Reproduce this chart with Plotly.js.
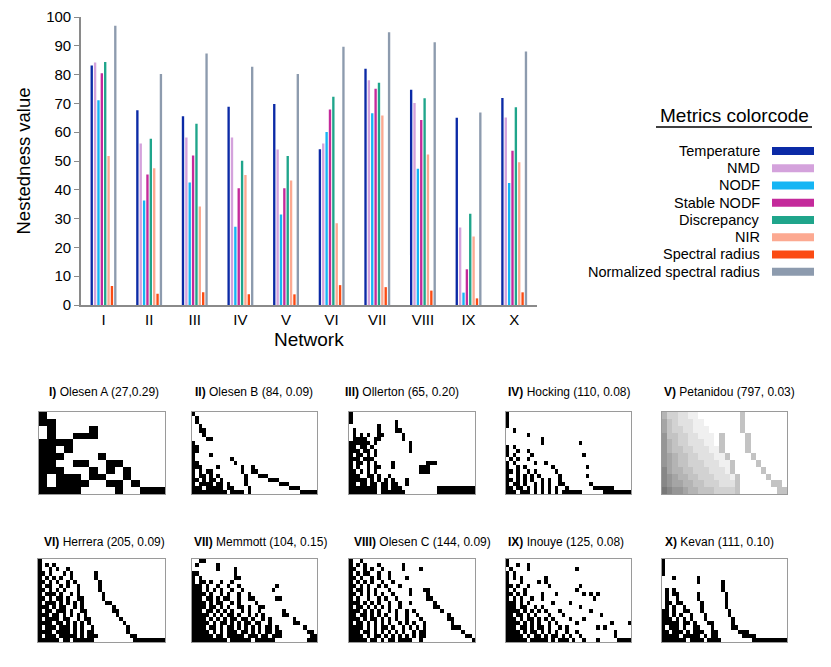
<!DOCTYPE html>
<html>
<head>
<meta charset="utf-8">
<script src="https://cdn.plot.ly/plotly-3.0.1.min.js"></script>
<style>
  body { margin: 0; background: #fff; }
  #myChart { width: 831px; height: 667px; }
</style>
</head>
<body>
<div id="myChart"></div>
<script>
// networks on the x axis
let networks = ["I", "II", "III", "IV", "V", "VI", "VII", "VIII", "IX", "X"];

// metric names (legend order)
let metrics = ["Temperature", "NMD", "NODF", "Stable NODF", "Discrepancy", "NIR",
  "Spectral radius", "Normalized spectral radius"];

// values, one array per metric
let temperature = [83.2, 67.6, 65.5, 68.8, 69.8, 54.1, 82.0, 74.7, 65.0, 71.9];
let nmd = [84.2, 56.1, 58.2, 58.2, 54.0, 56.1, 78.0, 70.1, 26.9, 65.1];
let nodf = [71.1, 36.3, 42.5, 27.2, 31.4, 60.1, 66.6, 47.3, 4.3, 42.4];
let stableNodf = [80.5, 45.3, 51.9, 40.5, 40.5, 67.9, 75.1, 64.2, 12.4, 53.6];
let discrepancy = [84.4, 57.7, 62.9, 50.1, 51.7, 72.3, 77.2, 71.8, 31.7, 68.7];
let nir = [51.7, 47.5, 34.2, 45.1, 43.2, 28.4, 65.8, 52.3, 23.8, 49.6];
let spectralRadius = [6.6, 3.9, 4.4, 3.7, 3.7, 6.9, 6.2, 5.0, 2.3, 4.4];
let normSpectralRadius = [97.0, 80.2, 87.3, 82.7, 80.2, 89.7, 94.7, 91.2, 66.8, 88.0];

// network names for the matrix panels: name, species, connectance
let netNames = ["Olesen A", "Olesen B", "Ollerton", "Hocking", "Petanidou",
  "Herrera", "Memmott", "Olesen C", "Inouye", "Kevan"];
let netSpecies = ["27", "84", "65", "110", "797", "205", "104", "144", "125", "111"];
let netConn = ["0.29", "0.09", "0.20", "0.08", "0.03", "0.09", "0.15", "0.09", "0.08", "0.10"];

// interaction matrices, traced by eye ('#' filled, '.' empty, digit = grey density)
let matOlesenA = [
  "#..............",
  "##.............",
  ".#....#........",
  ".#..###........",
  "####...........",
  "##.#...........",
  "###....#.......",
  "##..##..##.....",
  "###...#.#.#....",
  "#.###.##..#....",
  "#.####..##.#...",
  "#####....#..###"
];
let matOlesenB = [
  "#...................................",
  ".#..................................",
  ".#..................................",
  "..#.................................",
  "..##................................",
  "...#................................",
  "....##..............................",
  "#...................................",
  "##..................................",
  "##..................................",
  "#....#..............................",
  "#..........#........................",
  "##..........#.......................",
  "###....#......#..#..................",
  "#.#.##........#..##.................",
  "#.##.#.#.......#...###..............",
  "##.#.##.#......#......###...........",
  "#.####.##.#....#.........###........",
  "###.#####.##....#...........###.....",
  "##########.####.#..............#####"
];
let matOllerton = [
  "#...................................",
  "#...................................",
  "#............#......................",
  "........#....#......................",
  ".#......#....##.....................",
  ".#.#.#..##.....#....................",
  ".####..##......#....................",
  "######.#.........#..................",
  "##.##.#..........#..................",
  "###.##.#.........#..................",
  "#.##.#.#............................",
  "###.###.............................",
  "#.##.#.#....#.........###...........",
  "#.#..#.##...#.......###.............",
  "##.#.#.#............###.............",
  "###..##.#..#........................",
  "#####.#.#.#.#...#...................",
  "##.##.##.##.##..#...................",
  "########.##.###..........###########",
  "########.#######.........###########"
];
let matHocking = [
  "#...................................",
  "#...................................",
  "#...................................",
  "#...................................",
  "..#.................................",
  "......#.............................",
  "..........#.........................",
  "..........#..........#..............",
  "#.#.................................",
  "#..#..#.............................",
  "#.#....#..............#.............",
  ".#.#..#.............................",
  "#.#.....#..#........................",
  "#..#.#.......#.........#............",
  "##.#..#.#.....#.....................",
  "#..#.#.#.#.....#.......#............",
  "##.#.#.#..#.#..#....................",
  "#.##.#..#.#.#..##.......#...........",
  "##.##.#.#.#.#.#..#.......######.....",
  "###.###.#.#.#.#.######......########"
];
let matPetanidou = [
  "533221100000000400000000",
  "643222110000000400000000",
  "643322111000000400000000",
  "744332211104000040000000",
  "754332221104000040000000",
  "754433222114000040000000",
  "765443322211400004000000",
  "765443332221140000400000",
  "865544333222140000040000",
  "876554433322214000004000",
  "876655443332224000000440",
  "987765544433334000000044"
];
let matHerrera = [
  "#...................................",
  "#.#.#...............................",
  "#..#.#..#...........................",
  "##.#...#.#......#...................",
  "#.#.#.#..#......#...................",
  "##.#.#..#.#......#..................",
  "#.##..#.#..#.....#..................",
  "##.#.#.#...#.....#..................",
  "#.###.#..#.#......#.................",
  "##.#.##.#..##.....#.................",
  "#.###.#.#.#.#......##...............",
  "###.#.##..#.#........#..............",
  "#.##.###.#..##.......##.............",
  "###.##.#.#.#.#........#.............",
  "#.####.##..#.##........#............",
  "####.##.#.#.#.#.........#...........",
  "#.###.###.#.#..#.........#..........",
  "####.####.#.#.##.........#..........",
  "#.###.#####.#.###.........##........",
  "######.##.######...........#########"
];
let matMemmott = [
  "..##................................",
  ".#.....#............................",
  ".......#....#.......................",
  "##..........#.......................",
  "#.#.........##......................",
  "#.##.#..#..#........................",
  "###.#..#..#..#..........#...........",
  "###.#.#.#..#..#........#............",
  "####.#..#.#..#..#...................",
  "###.##.#.##..#..##......##..........",
  "####.#.##..#.#....#.................",
  "####.##.#.#..##.#..##...............",
  "###.##.#.#.#..#.#..#......#.........",
  "#####.#.#.##.#..#.#.#.....##........",
  "####.#.#.#.##.##.#..#.#......#......",
  "#####.#.##.#.#.##.##..#......##.....",
  "####.##.#.##.#.#.#.#.##.#.......#...",
  "#####.#.#.###.##.#.#.##.##.......##.",
  "######.##.#####.###.##.###........##",
  "##########.######.######.........###"
];
let matOlesenC = [
  "#..#................................",
  "#.#.#...#......#....................",
  "##..#.#..#.....#....#...............",
  "#.#.##..#..#........................",
  "##.#..#.#..#....#...................",
  "#.#.#.#..#..#.......................",
  "##.#.#..#.#...#.....................",
  "#.##.#.#...#.....#...##.............",
  "##.#.#.#.#..#....#....#.............",
  "#.#..#..#.#..#........##............",
  "###.#.#.#..#..#..#......#...........",
  "#.##.#.#.#.#..#.........##..........",
  "###.#.#.#..#.#..#.#.......#.........",
  "##.##.#.#.#..#..#..#........#.......",
  "###.#.##.#.#.#..#...#.......##......",
  "#.##.#.#.#.#..#.#.#..#.......#......",
  "####.#.#.##.#..#.#.#.#.......###....",
  "###.##.#.#.#.#.#..#.##..........#...",
  "####.#.##.#.#.#.#.#.##...........##.",
  "#####.##.#.##.####..#..............#"
];
let matInouye = [
  "#...................................",
  "#..#..#.............................",
  ".#....#.............#...............",
  "#.#.................................",
  "#.#.#......#........................",
  "#...#....#.#........................",
  "##.#..#.....#........#..............",
  "#.#..#..............#...............",
  "##.#.#....#...#.......#.#.#.........",
  "#.#.#..#..#..............#..........",
  "###.#.#......#....#.................",
  "###.##..#.#..........#..............",
  "####.#.#.#.#...#........#...........",
  "##.##.#.#...#...#..........#........",
  "###.#.##.#.#.#....#...#.............",
  "####.#.#.#..#.#.....#.........#....#",
  "###.##.#.##.#..#.#........#.#.......",
  "####.#.##.#.#.#..#..#..........#....",
  "#####.#.##.#.##.#.#..#.........#....",
  "######.#####.#.###.#..#...#.....####"
];
let matKevan = [
  "#...................................",
  "#...................................",
  "#...................................",
  "#...................................",
  "...#......#.........................",
  "..........#......#..................",
  ".................#..................",
  ".#.#.............#..................",
  ".#.##.....#.......#.................",
  ".#..#.....#.......#.................",
  ".##.##.....#......#.................",
  ".#.#..#....#......#.................",
  "##.#..##...#.......#................",
  "##.#.#..#...#......#................",
  "###.#.#.#...#.......#...............",
  "#####.##.#...##.....#...............",
  "#.###.#..##...#.....##..............",
  "##.###.#.###..##......###...........",
  "#####.#####.#.##.......####.........",
  "#######.####.####.........##########"
];
let matrices = [matOlesenA, matOlesenB, matOllerton, matHocking, matPetanidou,
  matHerrera, matMemmott, matOlesenC, matInouye, matKevan];

// colours of the metrics
let colors = ["#0b2aa6", "#d4a2dc", "#15b5f4", "#c42a9b", "#1fa58b", "#fca991", "#fb4b13", "#8d9bae"];

const W = 831, H = 667;
const px = x => x / W;
const py = y => 1 - y / H;
const font = "Liberation Sans, Arial, Helvetica, sans-serif";

let series = [temperature, nmd, nodf, stableNodf, discrepancy, nir, spectralRadius, normSpectralRadius];

const data = [];
for (let i = 0; i < metrics.length; i++) {
  data.push({
    type: "bar",
    name: metrics[i],
    x: networks,
    y: series[i],
    marker: {color: colors[i], line: {width: 0}},
    xaxis: "x",
    yaxis: "y",
    hoverinfo: "x+y+name"
  });
}

// Define Layout
const layout = {
  width: W,
  height: H,
  margin: {l: 0, r: 0, t: 0, b: 0},
  paper_bgcolor: "#fff",
  plot_bgcolor: "rgba(0,0,0,0)",
  showlegend: false,
  barmode: "group",
  bargap: 0.41,
  bargroupgap: 0.3,
  font: {family: font, color: "#000"},
  xaxis: {
    domain: [px(80.7), px(537)],
    anchor: "y",
    showline: true, linecolor: "#8a8a8a", linewidth: 1.5,
    ticks: "", showgrid: false, zeroline: false,
    tickfont: {size: 15, family: font},
    title: {text: "Network", font: {size: 19, family: font}, standoff: 6}
  },
  yaxis: {
    domain: [py(305), py(17)],
    anchor: "x",
    range: [0, 100],
    dtick: 10,
    showline: true, linecolor: "#8a8a8a", linewidth: 1.5,
    ticks: "outside", ticklen: 5, tickcolor: "#8a8a8a",
    showgrid: false, zeroline: false,
    tickfont: {size: 15, family: font},
    title: {text: "Nestedness value", font: {size: 18.5, family: font}, standoff: 10}
  },
  annotations: [],
  shapes: []
};

// legend built by hand: text right-aligned, swatch on the right
layout.annotations.push({
  xref: "paper", yref: "paper", x: px(734), y: py(115),
  text: "Metrics colorcode", showarrow: false,
  font: {size: 19, family: font}, xanchor: "center", yanchor: "middle"
});
layout.shapes.push({
  type: "line", xref: "paper", yref: "paper",
  x0: px(656), x1: px(812), y0: py(127), y1: py(127),
  line: {color: "#000", width: 1.5}
});
for (let i = 0; i < metrics.length; i++) {
  let yc = 151 + i * 17.25;
  layout.annotations.push({
    xref: "paper", yref: "paper", x: px(762), y: py(yc),
    text: metrics[i], showarrow: false,
    font: {size: 14.5, family: font}, xanchor: "right", yanchor: "middle"
  });
  layout.shapes.push({
    type: "rect", xref: "paper", yref: "paper",
    x0: px(772), x1: px(814), y0: py(yc + 4), y1: py(yc - 4),
    fillcolor: colors[i], line: {width: 0}
  });
}

// matrix panels
let boxX = [[39, 165], [192, 317], [349, 475], [506, 631], [662, 787],
  [38, 165], [192, 317], [349, 475], [506, 631], [662, 787]];
let boxY = [[412, 494], [559, 642]];
let titleX = [47, 193, 343, 506, 662, 42, 192, 352, 506, 663];
let titleY = [392, 542];

for (let k = 0; k < matrices.length; k++) {
  let rows = matrices[k];
  let ncol = Math.max(...rows.map(r => r.length));
  let z = rows.map(function(r) {
    let cells = r.padEnd(ncol, ".").split("");
    return cells.map(function(ch) {
      if (ch === "#") return 1;
      if (ch === ".") return 0;
      // grey stipple density, kept light like the dotted original
      return Number(ch) / 17;
    });
  });
  let n = k + 2;
  let row = k < 5 ? 0 : 1;
  data.push({
    type: "heatmap",
    z: z,
    xaxis: "x" + n,
    yaxis: "y" + n,
    colorscale: [[0, "#ffffff"], [1, "#000000"]],
    zmin: 0, zmax: 1,
    showscale: false,
    hoverinfo: "skip"
  });
  let ax = {
    showticklabels: false, showgrid: false, zeroline: false, ticks: "",
    showline: true, mirror: true, linecolor: "#9a9a9a", linewidth: 1,
    fixedrange: true
  };
  layout["xaxis" + n] = Object.assign({}, ax, {
    domain: [px(boxX[k][0]), px(boxX[k][1])],
    anchor: "y" + n,
    range: [-0.5, ncol - 0.5]
  });
  layout["yaxis" + n] = Object.assign({}, ax, {
    domain: [py(boxY[row][1]), py(boxY[row][0])],
    anchor: "x" + n,
    range: [rows.length - 0.5, -0.5]
  });
  layout.annotations.push({
    xref: "paper", yref: "paper", x: px(titleX[k]), y: py(titleY[row]),
    text: "<b>" + networks[k] + ")</b> " + netNames[k] + " (" + netSpecies[k] +
      (k === 0 ? "," : ", ") + netConn[k] + ")",
    showarrow: false, font: {size: 12, family: font},
    xanchor: "left", yanchor: "middle"
  });
}

const config = {staticPlot: true};

// Display using Plotly
Plotly.newPlot("myChart", data, layout, config);
</script>
</body>
</html>
